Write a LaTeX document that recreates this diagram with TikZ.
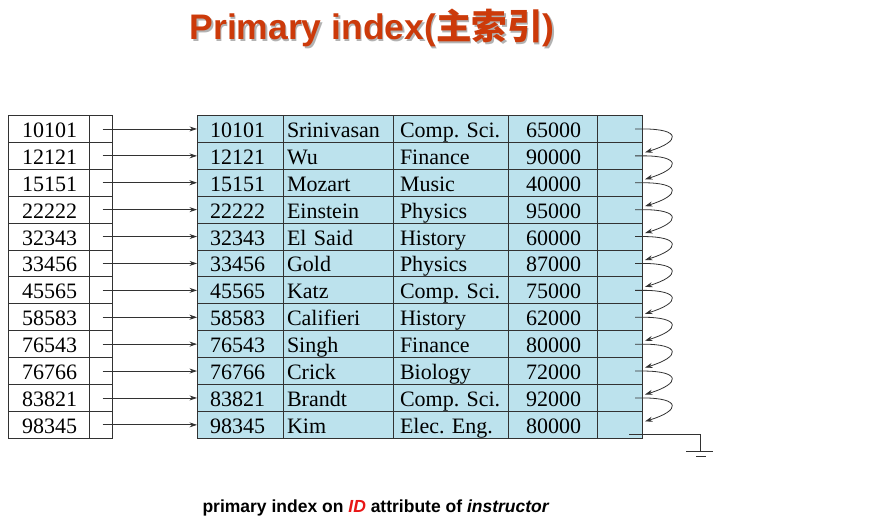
\documentclass[tikz,border=0pt]{standalone}
\usepackage{fontspec}
\setmainfont{Liberation Serif}
\setsansfont{Liberation Sans}
\newfontfamily\cjk{Noto Sans CJK SC}
\usepackage{xcolor}
\usepackage{tikz}
\usetikzlibrary{arrows.meta}

\definecolor{rowfill}{RGB}{188,226,237}
\definecolor{gridline}{RGB}{50,50,50}
\definecolor{titlered}{RGB}{204,58,10}
\definecolor{idred}{RGB}{232,22,22}

\begin{document}
\begin{tikzpicture}[x=1pt, y=-1pt,
    cell/.style={rectangle, draw=gridline, line width=1pt, outer sep=0pt, anchor=north west, minimum height=26.9pt, inner ysep=0pt, text height=17pt, text depth=0pt, align=left, font=\fontsize{22}{22}\selectfont\frenchspacing},
    keycell/.style={cell, inner xsep=14pt, text width=53pt},
    ptrcell/.style={cell, minimum width=23pt, inner xsep=0pt},
    idcell/.style={cell, fill=rowfill, inner xsep=13pt, text width=60pt},
    namecell/.style={cell, fill=rowfill, inner xsep=4pt, text width=102pt},
    deptcell/.style={cell, fill=rowfill, inner xsep=7pt, text width=101pt},
    salcell/.style={cell, fill=rowfill, inner xsep=18pt, text width=53pt},
    nextcell/.style={cell, fill=rowfill, minimum width=45pt, inner xsep=0pt},
    arrow/.style={-{Stealth[length=7.5pt, width=5pt]}, draw=gridline, line width=0.8pt},
    wire/.style={draw=gridline, line width=0.9pt},
    heading/.style={font=\sffamily\bfseries\fontsize{35.5}{35.5}\selectfont, anchor=base},
    caption/.style={font=\sffamily\bfseries\fontsize{17.5}{17.5}\selectfont, anchor=base}
]
    \useasboundingbox (0,0) rectangle (885,532);

    % title, with its shadow
    \node[heading, text=black!30] (titleshadow) at (373.5,41.5) {Primary index({\cjk 主索引})};
    \node[heading, text=titlered] (title) at (372,40) {Primary index({\cjk 主索引})};

    % index on the left, file on the right
    \foreach \key/\name/\dept/\salary [count=\i] in {
        10101/Srinivasan/Comp. Sci./65000,
        12121/Wu/Finance/90000,
        15151/Mozart/Music/40000,
        22222/Einstein/Physics/95000,
        32343/El Said/History/60000,
        33456/Gold/Physics/87000,
        45565/Katz/Comp. Sci./75000,
        58583/Califieri/History/62000,
        76543/Singh/Finance/80000,
        76766/Crick/Biology/72000,
        83821/Brandt/Comp. Sci./92000,
        98345/Kim/Elec. Eng./80000}
    {
        \pgfmathsetmacro{\rowtop}{115.5+(\i-1)*26.9}
        \node[keycell] (k\i) at (8,\rowtop) {\key};
        \node[ptrcell] (p\i) at (k\i.north east) {};
        \node[idcell] (id\i) at (197,\rowtop) {\key};
        \node[namecell] (nm\i) at (id\i.north east) {\name};
        \node[deptcell] (dp\i) at (nm\i.north east) {\dept};
        \node[salcell] (sl\i) at (dp\i.north east) {\salary};
        \node[nextcell] (n\i) at (sl\i.north east) {};
        \draw[arrow] ([xshift=2pt]p\i.center) -- (id\i.west);
    }

    % chain of records
    \foreach \i [evaluate=\i as \j using int(\i+1)] in {1,...,11}
        \draw[arrow] ([xshift=-7pt]n\i.east) -- ++(8,0)
            .. controls +(38,0) and +(36,-11) .. ([xshift=3pt, yshift=-10pt]n\j.north east);

    % last record points to null
    \coordinate (gnd) at (700.5,451);
    \draw[wire] ([xshift=-13pt, yshift=4pt]n12.south east) -| (gnd);
    \draw[wire] ([xshift=-14.5pt]gnd) -- ([xshift=12.5pt]gnd);
    \draw[wire] ([xshift=-4.5pt, yshift=-5pt]gnd) -- ([xshift=5.5pt, yshift=-5pt]gnd);

    \node[caption] (caption) at (376,512) {primary index on \textcolor{idred}{\textit{ID}} attribute of \textit{instructor}};
\end{tikzpicture}
\end{document}
